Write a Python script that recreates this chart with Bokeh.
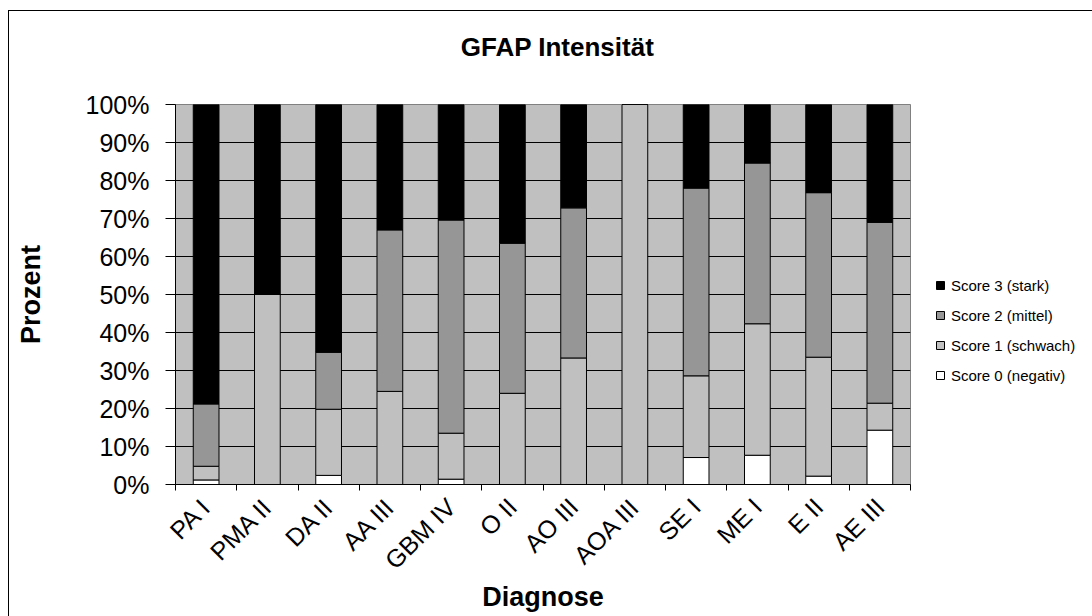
import numpy as np
from bokeh.plotting import figure
from bokeh.models import (ColumnDataSource, FixedTicker, PrintfTickFormatter, Legend,
                          LegendItem, Range1d, Label)
from bokeh.embed import file_html
from bokeh.resources import INLINE

# Diagnoses and GFAP intensity shares (percent of cases per diagnosis)
diagnoses = ["PA I", "PMA II", "DA II", "AA III", "GBM IV", "O II",
             "AO III", "AOA III", "SE I", "ME I", "E II", "AE III"]
score0 = [1.2, 0.0, 2.4, 0.0, 1.4, 0.0, 0.0, 0.0, 7.1, 7.7, 2.2, 14.3]
score1 = [3.6, 50.0, 17.4, 24.5, 12.1, 24.0, 33.3, 100.0, 21.5, 34.6, 31.3, 7.1]
score2 = [16.4, 0.0, 15.0, 42.5, 56.1, 39.5, 39.5, 0.0, 49.4, 42.3, 43.3, 47.6]
score3 = [78.8, 50.0, 65.2, 33.0, 30.4, 36.5, 27.2, 0.0, 22.0, 15.4, 23.2, 31.0]

series = ["score0", "score1", "score2", "score3"]
series_labels = ["Score 0 (negativ)", "Score 1 (schwach)", "Score 2 (mittel)", "Score 3 (stark)"]
series_colors = ["#FFFFFF", "#C0C0C0", "#969696", "#000000"]
y_ticks = list(range(0, 101, 10))

FONT = "Liberation Sans"

n = len(diagnoses)
pos = np.arange(n) + 0.5
source = ColumnDataSource(dict(x=pos, score0=score0, score1=score1,
                               score2=score2, score3=score3))

p = figure(frame_width=735, frame_height=380,
           x_range=Range1d(0, n), y_range=Range1d(0, 100),
           output_backend="svg", toolbar_location=None,
           min_border_left=166, min_border_right=182,
           min_border_top=93, min_border_bottom=132,
           background_fill_color="#C0C0C0", border_fill_color="white",
           outline_line_color="#808080")
p.margin = (11, 0, 0, 9)
p.styles = {"outline": "1px solid black"}

# chart title, placed in the band above the plot area
p.add_layout(Label(x=382, y=58, x_units="screen", y_units="screen",
                   text="GFAP Intensität", text_font=FONT, text_font_size="26px",
                   text_font_style="bold", text_color="black",
                   text_align="center", text_baseline="middle"), "above")

renderers = p.vbar_stack(series, x="x", width=0.42, source=source,
                         fill_color=series_colors, line_color="black", line_width=1)

# horizontal gridlines only
p.xgrid.visible = False
p.ygrid.ticker = FixedTicker(ticks=y_ticks)
p.ygrid.grid_line_color = "black"
p.ygrid.grid_line_width = 1

# y axis
ya = p.yaxis[0]
ya.ticker = FixedTicker(ticks=y_ticks)
ya.formatter = PrintfTickFormatter(format="%d%%")
ya.major_label_text_font = FONT
ya.major_label_text_font_size = "25px"
ya.major_label_text_color = "black"
ya.major_tick_out = 10
ya.major_tick_in = 0
ya.minor_tick_line_color = None
ya.major_label_standoff = 16
ya.axis_line_color = "black"
ya.major_tick_line_color = "black"
ya.axis_label = "Prozent"
ya.axis_label_text_font = FONT
ya.axis_label_text_font_size = "27px"
ya.axis_label_text_font_style = "bold"
ya.axis_label_text_color = "black"
ya.axis_label_standoff = 37

# x axis: labels at bar centres, tick marks at category boundaries
xa = p.xaxis[0]
xa.ticker = FixedTicker(ticks=list(pos), minor_ticks=list(range(n + 1)))
xa.major_label_overrides = {float(v): d for v, d in zip(pos, diagnoses)}
xa.major_label_orientation = np.pi / 4
xa.major_label_text_font = FONT
xa.major_label_text_font_size = "25px"
xa.major_label_text_color = "black"
xa.major_tick_line_color = None
xa.major_tick_out = 6
xa.minor_tick_out = 6
xa.minor_tick_in = 0
xa.minor_tick_line_color = "black"
xa.major_label_standoff = 12
xa.axis_line_color = "black"
xa.axis_label = "Diagnose"
xa.axis_label_text_font = FONT
xa.axis_label_text_font_size = "27px"
xa.axis_label_text_font_style = "bold"
xa.axis_label_text_color = "black"
xa.axis_label_standoff = -5

# legend to the right of the plot area, strongest score first
items = [LegendItem(label=lab, renderers=[r])
         for lab, r in zip(series_labels[::-1], renderers[::-1])]
legend = Legend(items=items, location=(25, 99),
                glyph_width=10, glyph_height=10, label_standoff=6,
                spacing=10, label_height=20, padding=0, margin=0,
                border_line_color=None, background_fill_alpha=0,
                label_text_font=FONT, label_text_font_size="15px",
                label_text_color="black")
p.add_layout(legend, "right")

open("out.html", "w").write(file_html(p, INLINE))
